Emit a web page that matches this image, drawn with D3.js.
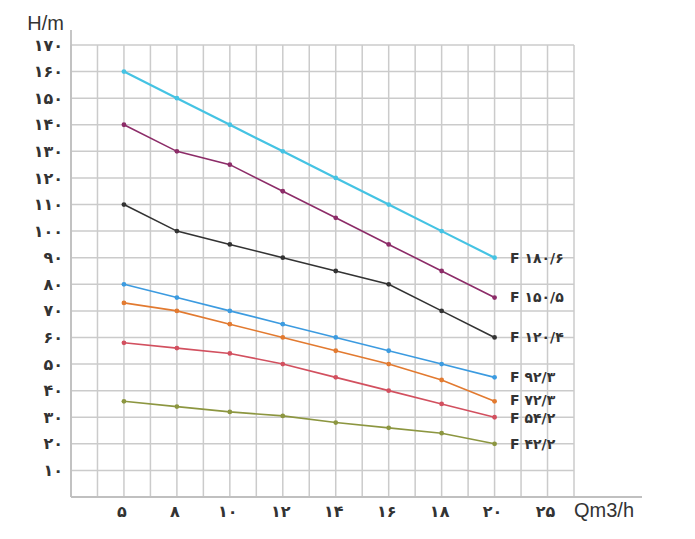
<!DOCTYPE html>
<html><head><meta charset="utf-8">
<script src="https://cdn.jsdelivr.net/npm/d3@7"></script>
<style>body{margin:0;background:#fff}svg{display:block}</style>
</head><body><svg id="c" width="695" height="539"></svg>
<script>
const categories = ["۵","۸","۱۰","۱۲","۱۴","۱۶","۱۸","۲۰","۲۵"];
const yTicks = [10,20,30,40,50,60,70,80,90,100,110,120,130,140,150,160,170];
const yTickLabels = ["۱۰","۲۰","۳۰","۴۰","۵۰","۶۰","۷۰","۸۰","۹۰","۱۰۰","۱۱۰","۱۲۰","۱۳۰","۱۴۰","۱۵۰","۱۶۰","۱۷۰"];
const seriesNames = ["F ۱۸۰/۶","F ۱۵۰/۵","F ۱۲۰/۴","F ۹۲/۳","F ۷۲/۳","F ۵۴/۲","F ۴۲/۲"];
const s180 = [160,150,140,130,120,110,100,90];
const s150 = [140,130,125,115,105,95,85,75];
const s120 = [110,100,95,90,85,80,70,60];
const s92  = [80,75,70,65,60,55,50,45];
const s72  = [73,70,65,60,55,50,44,36];
const s54  = [58,56,54,50,45,40,35,30];
const s42  = [36,34,32,30.5,28,26,24,20];
const seriesValues = [s180,s150,s120,s92,s72,s54,s42];
const colors = ["#45c3e3","#8c2c68","#333333","#3c9be0","#e27a30","#d2505f","#8c9640"];

const svg = d3.select("#c");
const x = d3.scaleLinear().domain([-1, 8.5]).range([71, 574]);
const y = d3.scaleLinear().domain([0, 170]).range([497, 45]);

// grid
const g = svg.append("g");
g.selectAll("line.v").data(d3.range(-1, 8.51, 0.5)).enter().append("line")
  .attr("x1", d => x(d)).attr("x2", d => x(d)).attr("y1", y(170)).attr("y2", y(0))
  .attr("stroke", "#cbcbcb").attr("stroke-width", 1.5);
g.selectAll("line.h").data(yTicks).enter().append("line")
  .attr("x1", x(-1)).attr("x2", x(8.5)).attr("y1", d => y(d)).attr("y2", d => y(d))
  .attr("stroke", "#cbcbcb").attr("stroke-width", 1.5);
// axes lines
svg.append("line").attr("x1", x(-1)).attr("x2", x(-1)).attr("y1", 30).attr("y2", y(0))
  .attr("stroke", "#c0c0c0").attr("stroke-width", 1.8);
svg.append("line").attr("x1", x(-1)).attr("x2", 642).attr("y1", y(0)).attr("y2", y(0))
  .attr("stroke", "#c0c0c0").attr("stroke-width", 1.8);

// y tick labels
svg.selectAll("text.yt").data(yTicks).enter().append("text")
  .attr("x", 63).attr("y", d => y(d)).attr("dy", "0.35em")
  .attr("text-anchor", "end").attr("font-family", "DejaVu Sans, sans-serif")
  .attr("font-weight", "bold").attr("font-size", 16).attr("fill", "#333")
  .text((d, i) => yTickLabels[i]);
// x tick labels
svg.selectAll("text.xt").data(categories).enter().append("text")
  .attr("x", (d, i) => x(i) - 2).attr("y", 511).attr("dy", "0.35em")
  .attr("text-anchor", "middle").attr("font-family", "DejaVu Sans, sans-serif")
  .attr("font-weight", "bold").attr("font-size", 16).attr("fill", "#333")
  .text(d => d);

// axis titles
svg.append("text").attr("x", 64).attr("y", 30).attr("text-anchor", "end")
  .attr("font-family", "Liberation Sans, Arial, sans-serif").attr("font-size", 20)
  .attr("fill", "#333").text("H/m");
svg.append("text").attr("x", 574).attr("y", 517).attr("text-anchor", "start")
  .attr("font-family", "Liberation Sans, Arial, sans-serif").attr("font-size", 20)
  .attr("fill", "#333").text("Qm3/h");

// series
const line = d3.line().x((d, i) => x(i)).y(d => y(d));
seriesValues.forEach((vals, k) => {
  svg.append("path").attr("d", line(vals)).attr("fill", "none")
    .attr("stroke", colors[k]).attr("stroke-width", k === 0 ? 2.2 : 1.6);
  svg.selectAll(null).data(vals).enter().append("circle")
    .attr("cx", (d, i) => x(i)).attr("cy", d => y(d)).attr("r", 2.4)
    .attr("fill", colors[k]);
  const last = vals[vals.length - 1];
  const nudge = k === 4 ? -1.5 : (k === 5 ? 1 : 0);
  svg.append("text").attr("x", 510).attr("y", y(last) + nudge).attr("dy", "0.35em")
    .attr("font-family", "DejaVu Sans, sans-serif").attr("font-weight", "bold")
    .attr("font-size", 14).attr("fill", "#333").attr("direction", "ltr")
    .style("unicode-bidi", "isolate")
    .text(seriesNames[k]);
});
</script></body></html>
